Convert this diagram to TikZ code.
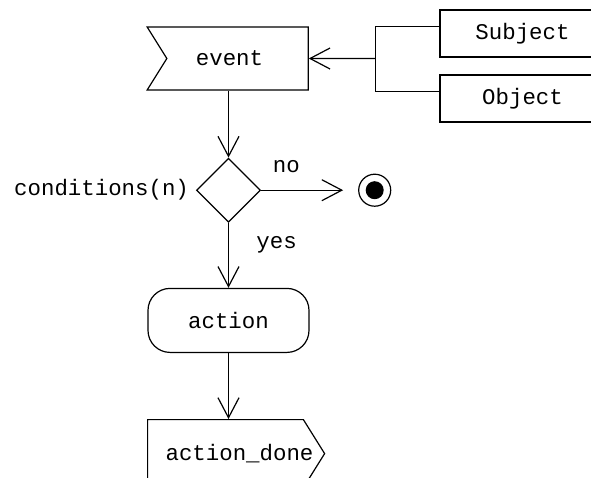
\documentclass[tikz,border=0pt]{standalone}
\usepackage{fontspec}
\setmonofont{Liberation Mono}
\usetikzlibrary{arrows.meta, positioning, shapes.geometric, shapes.symbols}

\begin{document}
\begin{tikzpicture}[
    font=\ttfamily\fontsize{22.4}{26}\selectfont,
    line width=1.2pt,
    node distance=66pt and 66pt,
    recv/.style={draw, signal, signal from=west, signal to=nowhere, signal pointer angle=116, minimum width=161pt, minimum height=63pt, inner sep=0pt},
    send/.style={draw, signal, signal to=east, signal pointer angle=116, minimum width=177pt, minimum height=68pt, inner sep=0pt},
    choice/.style={draw, diamond, minimum size=64pt, inner sep=0pt},
    activity/.style={draw, rounded corners=22pt, minimum width=161pt, minimum height=64pt},
    entity/.style={draw, minimum width=165pt, minimum height=47pt},
    final/.style={draw, circle, minimum size=32pt, inner sep=0pt, path picture={\fill (path picture bounding box.center) circle (9pt);}},
    arrow/.style={-{Straight Barb[length=20pt, width=21pt]}}
]
\useasboundingbox (0,0) rectangle (591pt,-477pt);
\clip (0,0) rectangle (591pt,-477pt);

\node[recv] (event) at (237.5pt,-58.5pt) {\makebox[0pt]{event\hspace{16pt}}};
\node[choice, below=67pt of event, xshift=-9pt] (cond) {};
\node[left=3pt of cond] (condtext) {conditions(n)};
\node[final, right=97pt of cond] (end) {};
\node[activity, below=65pt of cond] (action) {action};
\node[send, below=66pt of action, xshift=-3pt] (done) {\makebox[0pt]{\hspace{28pt}action\_done}};
\node[entity] (subject) at (522.5pt,-33.5pt) {Subject};
\node[entity] (object) at (522.5pt,-98.5pt) {Object};
\coordinate[right=67pt of event] (join);

\draw[arrow] (event.south -| cond) -- (cond);
\draw[arrow, shorten >=15pt] (cond) -- node[pos=0.26, above=14pt] (no) {no} (end);
\draw[arrow] (cond) -- node[pos=0.34, right=24pt] (yes) {yes} (action);
\draw[arrow] (action) -- (action.south |- done.north);
\draw ([yshift=7pt]subject.west) -| (join) |- ([yshift=7pt]object.west);
\draw[arrow] (join) -- (event);

\end{tikzpicture}
\end{document}
